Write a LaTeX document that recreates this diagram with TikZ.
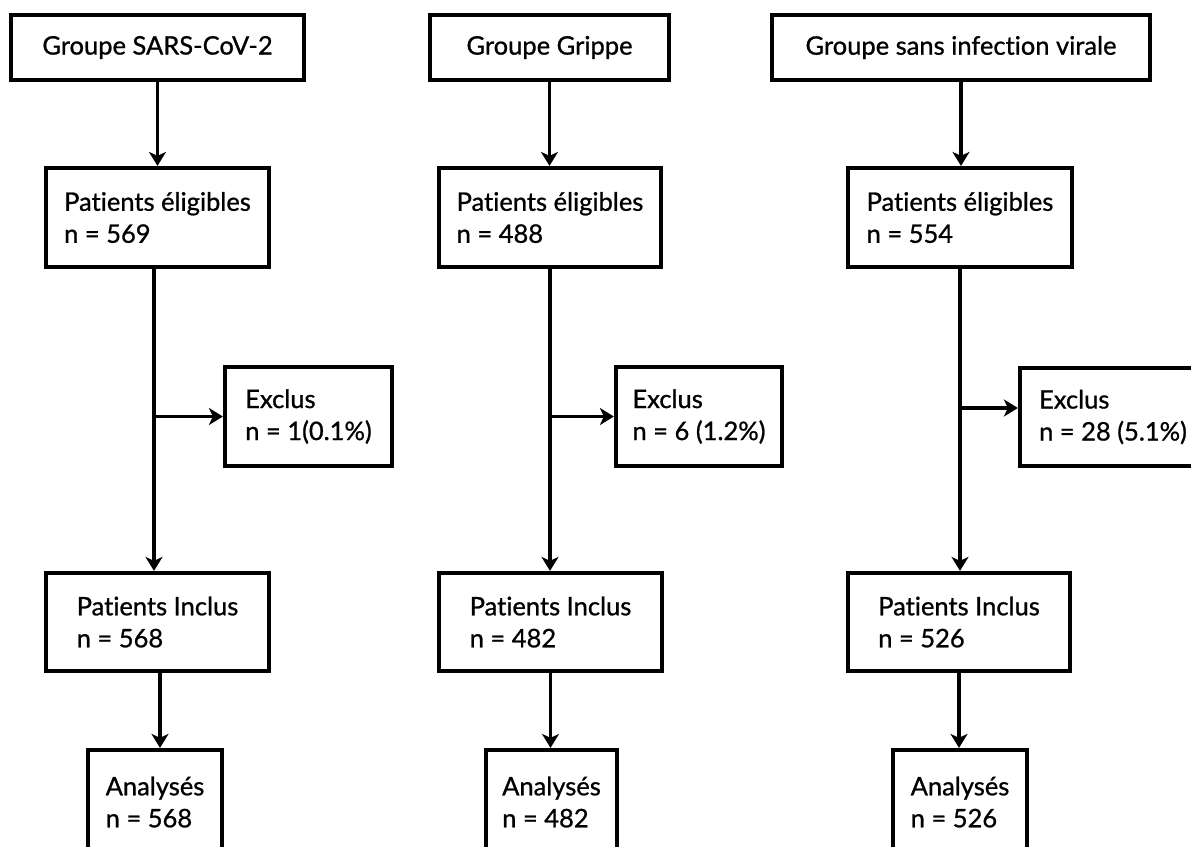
\documentclass[tikz,border=0pt]{standalone}
\usepackage{fontspec}
\setmainfont{Lato}[Ligatures=NoCommon, FakeBold=0.9]
\usetikzlibrary{arrows.meta}
\begin{document}
\begin{tikzpicture}[x=1pt,y=-1pt,
  box/.style={draw, line width=4.2pt, inner sep=0pt, align=left,
    font=\fontsize{25.5}{32}\selectfont},
  conn/.style={line width=3.5pt, -{Stealth[length=14pt,width=17pt,inset=4pt]}}]
\useasboundingbox (0,0) rectangle (1191,846);
\clip (0,0) rectangle (1191,846);
\fill[white] (0,0) rectangle (1191,846);
% column 1
\node[box, minimum width=293pt, minimum height=65pt] (g1) at (157.5,47.5) {Groupe SARS-CoV-2};
\node[box, minimum width=223pt, minimum height=99pt] (e1) at (157.5,217.5) {Patients éligibles\\n = 569};
\node[box, minimum width=167pt, minimum height=99pt] (x1) at (308.5,416.5) {Exclus\\n = 1(0.1\%)};
\node[box, minimum width=223pt, minimum height=98pt] (i1) at (157.5,622) {Patients Inclus\\n = 568};
\node[box, minimum width=134pt, minimum height=104pt] (a1) at (155,802) {Analysés\\n = 568};
% column 2
\node[box, minimum width=239pt, minimum height=65pt] (g2) at (549.5,47.5) {Groupe Grippe};
\node[box, minimum width=222pt, minimum height=99pt] (e2) at (550,217.5) {Patients éligibles\\n = 488};
\node[box, minimum width=166pt, minimum height=99pt] (x2) at (699,416.5) {Exclus\\n = 6 (1.2\%)};
\node[box, minimum width=223pt, minimum height=98pt] (i2) at (550.5,622) {Patients Inclus\\n = 482};
\node[box, minimum width=131pt, minimum height=104pt] (a2) at (551.5,802) {Analysés\\n = 482};
% column 3
\node[box, minimum width=378pt, minimum height=65pt] (g3) at (961,47.5) {Groupe sans infection virale};
\node[box, minimum width=224pt, minimum height=99pt] (e3) at (960,217.5) {Patients éligibles\\n = 554};
\node[box, minimum width=186pt, minimum height=98pt] (x3) at (1113,417) {Exclus\\n = 28 (5.1\%)};
\node[box, minimum width=222pt, minimum height=98pt] (i3) at (959,622) {Patients Inclus\\n = 526};
\node[box, minimum width=134pt, minimum height=104pt] (a3) at (960,802) {Analysés\\n = 526};
% connectors column 1
\coordinate (s1) at ([xshift=-3.5pt]e1.south);
\coordinate (t1) at ([xshift=2.5pt]i1.south);
\draw[conn] (g1.south) -- (e1.north);
\draw[conn] (s1) -- (s1 |- i1.north);
\draw[conn] (x1.west -| s1) -- (x1.west);
\draw[conn] (t1) -- (t1 |- a1.north);
% connectors column 2
\draw[conn] (g2.south) -- (g2.south |- e2.north);
\draw[conn] (e2.south) -- (e2.south |- i2.north);
\draw[conn] (x2.west -| e2.south) -- (x2.west);
\draw[conn] (i2.south) -- (i2.south |- a2.north);
% connectors column 3
\coordinate (b3) at (960,408);
\draw[conn] (g3.south) -- (g3.south |- e3.north);
\draw[conn] (e3.south) -- (e3.south |- i3.north);
\draw[conn] (b3) -- (b3 -| x3.west);
\draw[conn] (i3.south) -- (i3.south |- a3.north);
\end{tikzpicture}
\end{document}
